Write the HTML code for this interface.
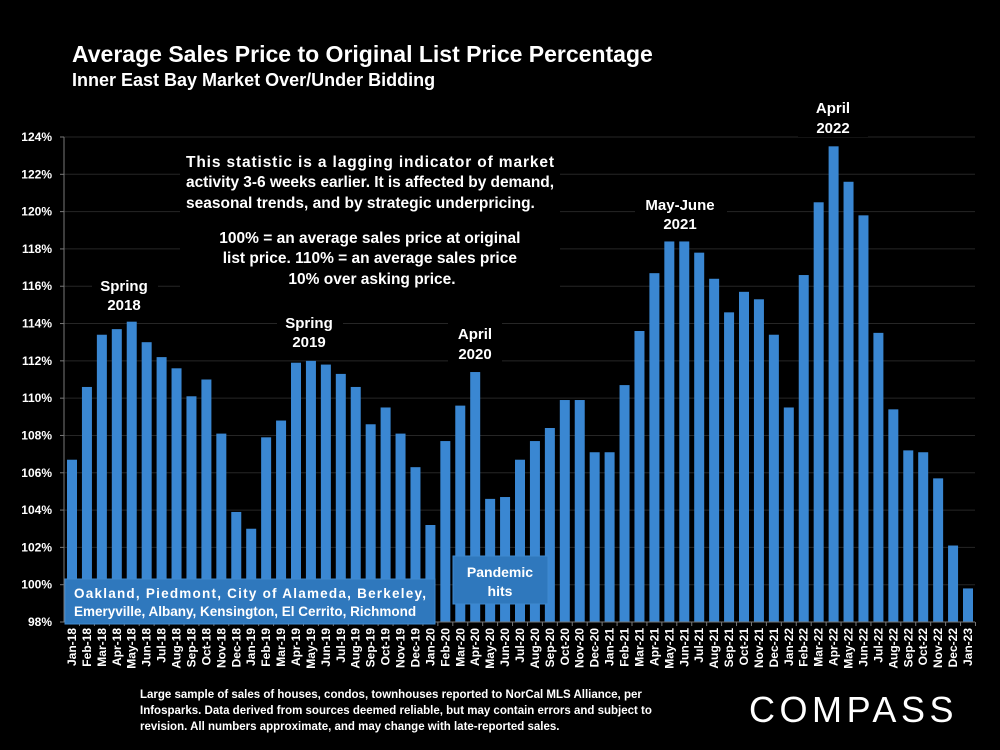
<!DOCTYPE html>
<html><head><meta charset="utf-8">
<style>
html,body{margin:0;padding:0;background:#000;}
body{width:1000px;height:750px;overflow:hidden;position:relative;font-family:"Liberation Sans",sans-serif;}
svg{position:absolute;left:0;top:0;}
</style></head>
<body>
<svg id="chart" width="1000" height="750" viewBox="0 0 1000 750" font-family="Liberation Sans, sans-serif">
  <text x="72" y="62" fill="#fff" font-size="23" font-weight="bold">Average Sales Price to Original List Price Percentage</text>
  <text x="72" y="86" fill="#fff" font-size="18" font-weight="bold">Inner East Bay Market Over/Under Bidding</text>
  <g id="grid"></g>
  <g id="bars"></g>
  <g id="axes"></g>
  <g fill="#fff" font-weight="bold" font-size="15">
    <rect x="180" y="148" width="380" height="140" fill="#000"/>
    <text font-size="15.5">
      <tspan x="186" y="167" textLength="368" lengthAdjust="spacing">This statistic is a lagging indicator of market</tspan>
      <tspan x="186" y="187" textLength="368" lengthAdjust="spacing">activity 3-6 weeks earlier. It is affected by demand,</tspan>
      <tspan x="186" y="208">seasonal trends, and by strategic underpricing.</tspan>
    </text>
    <text text-anchor="middle" font-size="15.5">
      <tspan x="372" y="243">100% = an average sales price at original</tspan>
      <tspan x="372" y="263">list price. 110% = an average sales price</tspan>
      <tspan x="372" y="284">10% over asking price.</tspan>
    </text>
    <rect x="92" y="272" width="66" height="42" fill="#000"/>
    <text text-anchor="middle"><tspan x="124" y="291">Spring</tspan><tspan x="124" y="310">2018</tspan></text>
    <rect x="277" y="310" width="66" height="42" fill="#000"/>
    <text text-anchor="middle"><tspan x="309" y="328">Spring</tspan><tspan x="309" y="347">2019</tspan></text>
    <rect x="448" y="320" width="54" height="42" fill="#000"/>
    <text text-anchor="middle"><tspan x="475" y="339">April</tspan><tspan x="475" y="359">2020</tspan></text>
    <rect x="635" y="190" width="92" height="42" fill="#000"/>
    <text text-anchor="middle"><tspan x="680" y="210">May-June</tspan><tspan x="680" y="229">2021</tspan></text>
    <rect x="798" y="95" width="70" height="42" fill="#000"/>
    <text text-anchor="middle"><tspan x="833" y="113">April</tspan><tspan x="833" y="133">2022</tspan></text>
  </g>
  <g>
    <rect x="65" y="579" width="370" height="45" fill="#2f78bd" stroke="#3f8ad0" stroke-width="1"/>
    <text fill="#fff" font-weight="bold" font-size="13.5">
      <tspan x="74" y="598" textLength="352" lengthAdjust="spacing">Oakland, Piedmont, City of Alameda, Berkeley,</tspan>
      <tspan x="74" y="616">Emeryville, Albany, Kensington, El Cerrito, Richmond</tspan>
    </text>
  </g>
  <g>
    <rect x="453" y="556" width="95" height="48" fill="#2f78bd" stroke="#3f8ad0" stroke-width="1"/>
    <text fill="#fff" font-weight="bold" font-size="14" text-anchor="middle"><tspan x="500" y="577">Pandemic</tspan><tspan x="500" y="596">hits</tspan></text>
  </g>
  <text fill="#fff" font-size="11.5" font-weight="bold">
    <tspan x="140" y="698">Large sample of sales of houses, condos, townhouses reported to NorCal MLS Alliance, per</tspan>
    <tspan x="140" y="714">Infosparks. Data derived from sources deemed reliable, but may contain errors and subject to</tspan>
    <tspan x="140" y="730">revision. All numbers approximate, and may change with late-reported sales.</tspan>
  </text>
  <text x="749" y="722" fill="#fff" font-size="36" letter-spacing="5.5" textLength="210" lengthAdjust="spacing">COMPASS</text>
</svg>
<script>
const categories = ["Jan-18","Feb-18","Mar-18","Apr-18","May-18","Jun-18","Jul-18","Aug-18","Sep-18","Oct-18","Nov-18","Dec-18","Jan-19","Feb-19","Mar-19","Apr-19","May-19","Jun-19","Jul-19","Aug-19","Sep-19","Oct-19","Nov-19","Dec-19","Jan-20","Feb-20","Mar-20","Apr-20","May-20","Jun-20","Jul-20","Aug-20","Sep-20","Oct-20","Nov-20","Dec-20","Jan-21","Feb-21","Mar-21","Apr-21","May-21","Jun-21","Jul-21","Aug-21","Sep-21","Oct-21","Nov-21","Dec-21","Jan-22","Feb-22","Mar-22","Apr-22","May-22","Jun-22","Jul-22","Aug-22","Sep-22","Oct-22","Nov-22","Dec-22","Jan-23"];
const values = [106.7,110.6,113.4,113.7,114.1,113.0,112.2,111.6,110.1,111.0,108.1,103.9,103.0,107.9,108.8,111.9,112.0,111.8,111.3,110.6,108.6,109.5,108.1,106.3,103.2,107.7,109.6,111.4,104.6,104.7,106.7,107.7,108.4,109.9,109.9,107.1,107.1,110.7,113.6,116.7,118.4,118.4,117.8,116.4,114.6,115.7,115.3,113.4,109.5,116.6,120.5,123.5,121.6,119.8,113.5,109.4,107.2,107.1,105.7,102.1,99.8];
const yTicks = [98,100,102,104,106,108,110,112,114,116,118,120,122,124];

const NS = "http://www.w3.org/2000/svg";
const yMin = 98, yMax = 124, yTop = 137, yBot = 622;
const xLeft = 64, xRight = 975;
function y(v){ return yBot - (v - yMin) / (yMax - yMin) * (yBot - yTop); }
const step = (968 - 72) / (categories.length - 1);
function x(i){ return 72 + i * step; }
function mk(tag, attrs, parent){ const e = document.createElementNS(NS, tag); for (const k in attrs) e.setAttribute(k, attrs[k]); parent.appendChild(e); return e; }

const grid = document.getElementById('grid');
const bars = document.getElementById('bars');
const axes = document.getElementById('axes');

yTicks.forEach(t => {
  const g = mk('line', {x1: xLeft, x2: xRight, y1: y(t), y2: y(t), stroke: '#262626', 'stroke-width': 1}, grid);
  
  
  const lb = mk('text', {x: 52, y: y(t) + 4, fill: '#fff', 'font-size': 12, 'font-weight': 'bold', 'text-anchor': 'end'}, axes);
  
  
  lb.textContent = t + '%';
  const tk = mk('line', {x1: xLeft - 4, x2: xLeft, y1: y(t), y2: y(t), stroke: '#777'}, axes);
  
  
});

values.forEach((v, i) => {
  const r = mk('rect', {x: x(i) - 5, y: y(v), width: 10, height: yBot - y(v), fill: '#3a87d2'}, bars);
  
  
  const lb = mk('text', {x: 0, y: 0, fill: '#fff', 'font-size': 12, 'font-weight': 'bold', 'text-anchor': 'end', transform: `translate(${x(i) + 4},628) rotate(-90)`}, axes);
  
  
  lb.textContent = categories[i];
  const tk = mk('line', {x1: x(i) + step / 2, x2: x(i) + step / 2, y1: yBot, y2: yBot + 4, stroke: '#777'}, axes);
  
  
});

const ya = mk('line', {x1: xLeft, x2: xLeft, y1: yTop, y2: yBot, stroke: '#777'}, axes);


const xa = mk('line', {x1: xLeft, x2: xRight, y1: yBot, y2: yBot, stroke: '#777'}, axes);


</script>
</body></html>
